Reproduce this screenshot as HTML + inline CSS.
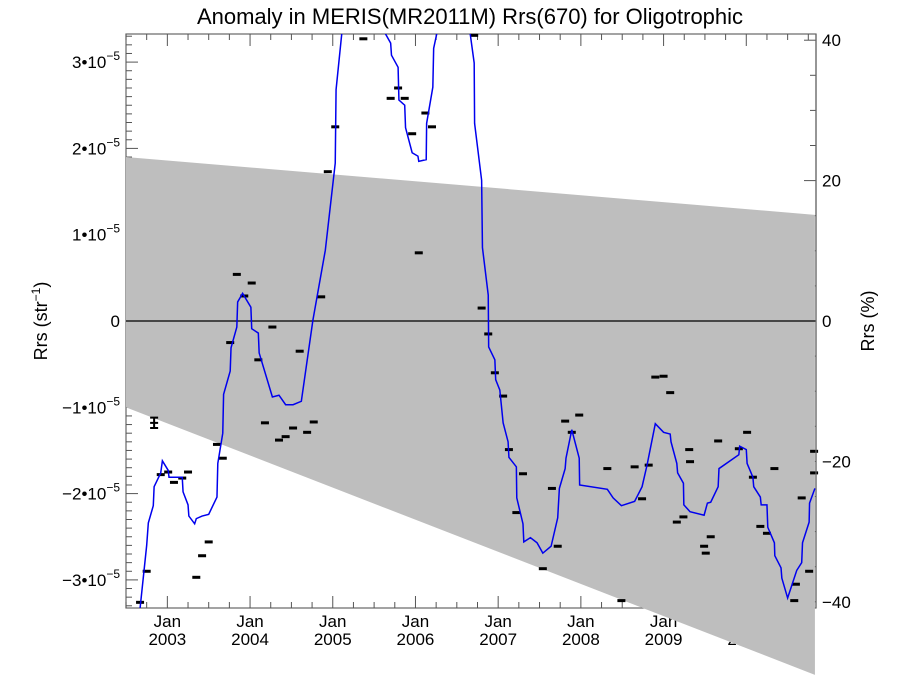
<!DOCTYPE html>
<html><head><meta charset="utf-8">
<style>
body{margin:0;background:#fff;}
svg{display:block;font-family:"Liberation Sans",sans-serif;}
</style></head>
<body>
<svg id="chart" width="900" height="675" viewBox="0 0 900 675" xmlns="http://www.w3.org/2000/svg">
<defs><clipPath id="plotclip"><rect x="126" y="34" width="690" height="574"/></clipPath></defs>
<text x="470" y="24" font-size="22" text-anchor="middle">Anomaly in MERIS(MR2011M) Rrs(670) for Oligotrophic</text>
<g id="axes"></g>
<g id="band"></g>
<g id="marks"></g>
<text transform="translate(47,321) rotate(-90)" font-size="18" text-anchor="middle">Rrs (str<tspan font-size="12" dy="-7">−1</tspan><tspan dy="7">)</tspan></text>
<text transform="translate(874,321) rotate(-90)" font-size="18" text-anchor="middle">Rrs (%)</text>
</svg>
<script>
// Data (time in decimal years, values in units of 1e-5 str^-1)
const lineT=[2002.67,2002.75,2002.77,2002.83,2002.84,2002.92,2002.94,2003.01,2003.02,2003.18,2003.19,2003.25,2003.26,2003.33,2003.35,2003.42,2003.50,2003.60,2003.61,2003.67,2003.68,2003.76,2003.77,2003.84,2003.85,2003.91,2004.01,2004.02,2004.10,2004.11,2004.27,2004.35,2004.43,2004.52,2004.62,2004.76,2004.91,2005.03,2005.04,2005.11,2005.18,2005.33,2005.51,2005.63,2005.70,2005.71,2005.79,2005.80,2005.87,2005.88,2005.96,2006.03,2006.04,2006.13,2006.135,2006.21,2006.22,2006.26,2006.36,2006.48,2006.60,2006.66,2006.71,2006.715,2006.80,2006.81,2006.88,2006.885,2006.96,2006.97,2007.02,2007.06,2007.12,2007.13,2007.22,2007.225,2007.30,2007.31,2007.39,2007.47,2007.54,2007.64,2007.72,2007.74,2007.81,2007.82,2007.89,2007.98,2007.985,2008.32,2008.39,2008.49,2008.65,2008.74,2008.80,2008.90,2009.00,2009.08,2009.09,2009.16,2009.17,2009.24,2009.245,2009.32,2009.49,2009.53,2009.57,2009.66,2009.67,2009.91,2009.92,2010.00,2010.01,2010.08,2010.09,2010.17,2010.18,2010.25,2010.26,2010.34,2010.345,2010.42,2010.43,2010.50,2010.61,2010.67,2010.68,2010.76,2010.765,2010.83];
const lineV=[-3.33,-2.60,-2.34,-2.14,-1.92,-1.76,-1.62,-1.73,-1.81,-1.81,-1.98,-2.13,-2.26,-2.35,-2.29,-2.26,-2.24,-2.04,-1.65,-1.30,-0.85,-0.58,-0.31,-0.07,0.22,0.32,0.16,-0.09,-0.14,-0.37,-0.88,-0.86,-0.97,-0.97,-0.93,0.01,0.82,1.83,2.68,3.34,4.07,4.65,4.07,3.34,3.22,3.08,2.94,2.56,2.50,2.24,1.95,1.91,1.85,1.87,2.29,2.71,3.16,3.34,4.18,4.41,4.07,3.34,2.99,2.29,1.63,0.85,0.30,-0.30,-0.45,-0.68,-0.80,-1.18,-1.40,-1.58,-1.69,-2.05,-2.35,-2.56,-2.51,-2.57,-2.69,-2.61,-2.28,-1.94,-1.71,-1.59,-1.26,-1.59,-1.90,-1.95,-2.05,-2.14,-2.09,-1.92,-1.67,-1.19,-1.29,-1.31,-1.40,-1.65,-1.76,-1.88,-2.13,-2.21,-2.25,-2.11,-2.10,-1.92,-1.71,-1.55,-1.45,-1.49,-1.65,-1.81,-1.92,-2.04,-2.13,-2.13,-2.39,-2.57,-2.72,-2.86,-2.98,-3.21,-2.89,-2.80,-2.57,-2.33,-2.11,-1.94];
const pointT=[2003.84,2004.02,2003.93,2004.27,2003.76,2004.10,2004.60,2004.86,2004.18,2004.35,2004.43,2004.52,2004.69,2004.77,2003.60,2003.67,2002.92,2003.01,2003.08,2003.18,2003.25,2003.50,2003.42,2003.35,2002.75,2002.67,2005.37,2005.79,2005.70,2005.87,2006.12,2006.20,2005.96,2005.03,2004.94,2006.04,2006.80,2006.88,2006.96,2006.71,2007.06,2007.13,2007.30,2007.22,2007.65,2007.72,2007.54,2007.81,2007.98,2007.89,2008.32,2008.65,2008.82,2008.74,2008.49,2009.08,2008.90,2009.00,2009.31,2009.32,2009.66,2010.01,2009.91,2010.08,2010.34,2009.16,2009.24,2009.49,2009.51,2009.57,2010.17,2010.25,2010.67,2010.60,2010.58,2010.76,2010.82,2010.82];
const pointV=[0.54,0.44,0.29,-0.07,-0.25,-0.45,-0.35,0.28,-1.18,-1.38,-1.34,-1.24,-1.29,-1.17,-1.43,-1.59,-1.78,-1.75,-1.87,-1.82,-1.75,-2.56,-2.72,-2.97,-2.90,-3.26,3.27,2.70,2.58,2.58,2.41,2.25,2.17,2.25,1.73,0.79,0.15,-0.15,-0.60,3.31,-0.87,-1.49,-1.77,-2.22,-1.94,-2.61,-2.87,-1.16,-1.09,-1.29,-1.71,-1.69,-1.67,-2.06,-3.24,-0.83,-0.65,-0.64,-1.49,-1.63,-1.39,-1.29,-1.48,-1.81,-1.71,-2.33,-2.27,-2.61,-2.69,-2.50,-2.38,-2.46,-2.05,-3.05,-3.24,-2.90,-1.51,-1.76];
const errT=[2002.84], errV=[-1.18], errE=[0.06];
const bandT=[2002.5,2010.83];
const bandUpper=[1.90,1.23];
const bandLower=[-1.00,-4.10];
const leftTicks=[-3,-2,-1,0,1,2,3];
const leftTickLabels=["−3•10","−2•10","−1•10","0","1•10","2•10","3•10"];
const rightTicks=[-40,-20,0,20,40];
const yearTicks=[2003,2004,2005,2006,2007,2008,2009,2010];

const X0=126,X1=816,Y0=34,Y1=608;
const T0=2002.5,T1=2010.843;
const VMIN=-3.341,VMAX=3.31;
const xs=t=>X0+(t-T0)/(T1-T0)*(X1-X0);
const ys=v=>321-v*86.3;
const yp=p=>321-p*7.02;
const NS="http://www.w3.org/2000/svg";
function mk(tag,attrs,parent){const e=document.createElementNS(NS,tag);for(const k in attrs)e.setAttribute(k,attrs[k]);parent.appendChild(e);return e;}
const axes=document.getElementById('axes'),band=document.getElementById('band'),marks=document.getElementById('marks');

// frame
const frame=mk('rect',{x:X0,y:Y0,width:X1-X0,height:Y1-Y0,fill:'none',stroke:'#666','stroke-width':1.2},axes);


// left ticks
for(let i=-34;i<=34;i++){const v=i/10;const y=ys(v);if(y<Y0||y>Y1)continue;const major=i%10===0;
 const tk=mk('line',{x1:X0,x2:X0+(major?12:6),y1:y,y2:y,stroke:'#555','stroke-width':1},axes);
 
 }
leftTicks.forEach((v,i)=>{const t=mk('text',{x:X0-6,y:ys(v)+6,'font-size':17,'text-anchor':'end'},axes);
 
 
 const lab=leftTickLabels[i];
 if(lab==="0"){t.textContent="0";}else{t.appendChild(document.createTextNode(lab));const s=mk('tspan',{'font-size':12,dy:-8},t);s.textContent="−5";}
});
// right ticks
for(let p=-45;p<=45;p+=5){const y=yp(p);if(y<Y0||y>Y1)continue;const major=p%20===0;
 const tk=mk('line',{x1:X1,x2:X1-(major?12:6),y1:y,y2:y,stroke:'#555','stroke-width':1},axes);
 
 }
rightTicks.forEach(p=>{const t=mk('text',{x:X1+6,y:yp(p)+6,'font-size':17},axes);
 
 
 t.textContent=(p<0?"−"+(-p):String(p));});
// x ticks (quarterly, both top and bottom)
for(let q=2002.5;q<=T1;q+=0.25){const x=xs(q);if(x>X1)break;const major=Math.abs(q-Math.round(q))<1e-6;const L=major?12:6;
 const b=mk('line',{x1:x,x2:x,y1:Y1,y2:Y1-L,stroke:'#555','stroke-width':1},axes);
 
 
 const tp=mk('line',{x1:x,x2:x,y1:Y0,y2:Y0+L,stroke:'#555','stroke-width':1},axes);
 
 }
yearTicks.forEach(yr=>{const x=xs(yr);
 const a=mk('text',{x:x,y:627,'font-size':17,'text-anchor':'middle'},axes);a.textContent="Jan";
 
 
 const b=mk('text',{x:x,y:645,'font-size':17,'text-anchor':'middle'},axes);b.textContent=String(yr);
 
 });
// band
const poly=mk('polygon',{points:`${xs(bandT[0])},${ys(bandUpper[0])} ${xs(bandT[1])},${ys(bandUpper[1])} ${xs(bandT[1])},${ys(bandLower[1])} ${xs(bandT[0])},${ys(bandLower[0])}`,fill:'#bebebe'},band);


// zero line
const z=mk('line',{x1:X0,x2:X1,y1:ys(0),y2:ys(0),stroke:'#000','stroke-width':1.3},marks);


// points
pointT.forEach((t,i)=>{const r=mk('rect',{x:xs(t)-4,y:ys(pointV[i])-1.5,width:8,height:3,fill:'#000'},marks);
 
 });
errT.forEach((t,i)=>{const x=xs(t),y=ys(errV[i]),h=errE[i]*86.3;
 const g=mk('path',{d:`M${x},${y-h}V${y+h}M${x-4},${y-h}H${x+4}M${x-4},${y+h}H${x+4}M${x-4},${y}H${x+4}`,stroke:'#000','stroke-width':2,fill:'none'},marks);
 
 });
// line
const pl=mk('polyline',{points:lineT.map((t,i)=>xs(t)+','+ys(lineV[i])).join(' '),fill:'none',stroke:'#0000ee','stroke-width':1.5,'clip-path':'url(#plotclip)'},marks);


// right axis line redraw
const ra=mk('line',{x1:X1,x2:X1,y1:Y0,y2:Y1,stroke:'#666','stroke-width':1.2},marks);


</script>
</body></html>
